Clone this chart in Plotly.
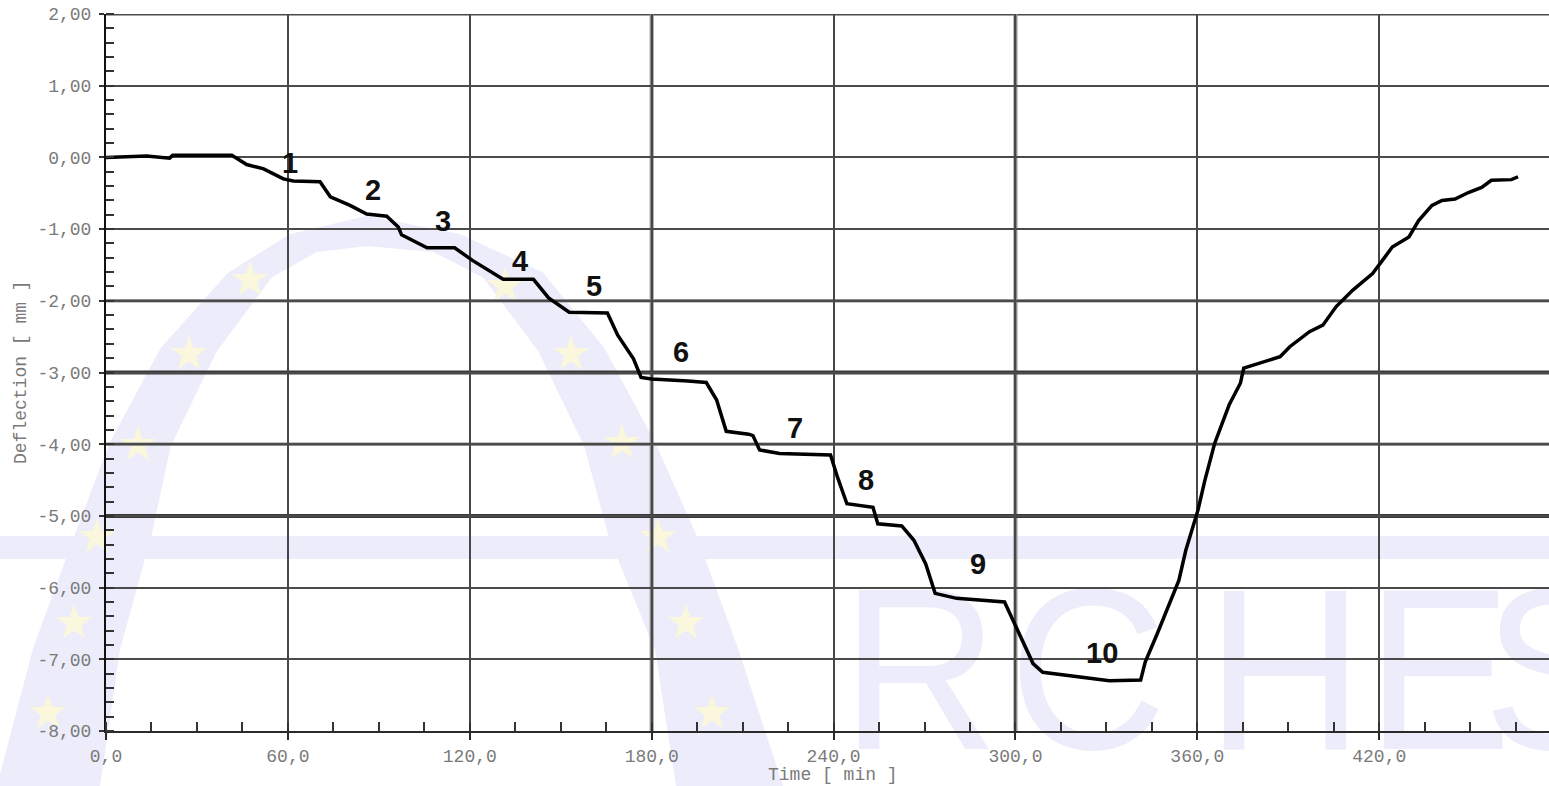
import base64
import math
import plotly.graph_objects as go

# ---------------- data ----------------
time_min = [0, 13.4, 21, 22, 41.5, 46.4, 52, 58.5, 61.8, 70.6, 74, 80.5, 86, 92.6, 96.4,
            97.5, 105.9, 115, 121, 131, 141, 146, 152.8, 165.4, 168.8, 171, 174, 176.5,
            180, 192, 198, 201.4, 204.6, 212, 213.4, 215.6, 222.2, 239, 241.3, 244.4,
            253, 254.6, 262.5, 266.5, 270.4, 273.5, 280.6, 296.4, 298.7, 301, 305.8,
            309, 323, 331, 341.3, 342.8, 346.8, 350, 353.9, 356.2, 360.2, 362.5, 365.7,
            370.5, 374.2, 375.3, 380.7, 387.3, 390.5, 397, 401.4, 405.8, 411.3, 417.8,
            421, 424.3, 429.8, 433, 437.4, 440.7, 445, 449.4, 453.8, 457, 463.6, 465.8]
deflection_mm = [0, 0.02, -0.01, 0.03, 0.03, -0.10, -0.16, -0.30, -0.33, -0.34, -0.55, -0.67,
                 -0.79, -0.82, -0.97, -1.08, -1.26, -1.26, -1.44, -1.70, -1.70, -1.96, -2.16,
                 -2.17, -2.48, -2.62, -2.81, -3.07, -3.09, -3.12, -3.14, -3.38, -3.82, -3.86,
                 -3.88, -4.08, -4.13, -4.15, -4.46, -4.83, -4.88, -5.11, -5.14, -5.34, -5.67,
                 -6.08, -6.15, -6.20, -6.41, -6.60, -7.06, -7.18, -7.25, -7.30, -7.29, -7.04,
                 -6.64, -6.32, -5.90, -5.48, -4.92, -4.50, -3.99, -3.45, -3.15, -2.94, -2.87,
                 -2.78, -2.64, -2.43, -2.34, -2.08, -1.85, -1.62, -1.44, -1.25, -1.11, -0.88,
                 -0.67, -0.60, -0.58, -0.49, -0.42, -0.32, -0.31, -0.27]

step_labels = ["1", "2", "3", "4", "5", "6", "7", "8", "9", "10"]
step_label_t = [60.7, 88.1, 111.2, 136.6, 161.0, 189.8, 227.4, 250.8, 287.6, 328.7]
step_label_y = [-0.08, -0.46, -0.89, -1.44, -1.79, -2.72, -3.78, -4.50, -5.67, -6.91]

x_tickvals = [0, 60, 120, 180, 240, 300, 360, 420]
x_ticktext = ["0,0", "60,0", "120,0", "180,0", "240,0", "300,0", "360,0", "420,0"]
y_tickvals = [2, 1, 0, -1, -2, -3, -4, -5, -6, -7, -8]
y_ticktext = ["2,00", "1,00", "0,00", "-1,00", "-2,00", "-3,00", "-4,00", "-5,00",
              "-6,00", "-7,00", "-8,00"]

x_title = "Time [ min ]"
y_title = "Deflection [ mm ]"

# ---------------- layout geometry ----------------
# The page body margin is removed (post_script), so the figure fills the window.
OFF = 0
SCREEN_W, SCREEN_H = 1549, 786
W, H = SCREEN_W - OFF, SCREEN_H - OFF
PLOT_L, PLOT_T, PLOT_R, PLOT_B = 106, 14, 1549, 731  # plot area in window pixels
ML, MT = PLOT_L - OFF, PLOT_T - OFF
MR, MB = W - (PLOT_R - OFF), H - (PLOT_B - OFF)
PW, PH = W - ML - MR, H - MT - MB


def paper_x(sx):
    return (sx - OFF - ML) / PW


def paper_y(sy):
    return (MT + PH - (sy - OFF)) / PH


# ---------------- watermark (background decoration) ----------------
WM = "#ececfa"
STAR = "#fbf7dc"
arch_outer_left = [(0, 786), (36, 649), (77, 537), (112, 445), (163, 350), (230, 275), (291, 237), (367, 219)]
arch_outer_right = [(459, 237), (541, 275), (602, 350), (653, 445), (694, 537), (735, 649), (780, 786)]
arch_inner_right = [(679, 786), (658, 649), (612, 537), (587, 445), (541, 350), (485, 275), (434, 249), (367, 243)]
arch_inner_left = [(316, 249), (270, 275), (214, 350), (168, 445), (148, 537), (117, 649), (97, 786)]
arch_pts = arch_outer_left + arch_outer_right + arch_inner_right + arch_inner_left
star_centers = [(250, 280), (189, 354), (138, 445), (97, 537), (74, 623), (48, 713),
                (505, 286), (571, 354), (622, 443), (658, 537), (686, 623), (712, 713)]
wm_letters = ["R", "C", "H", "E", "S"]
wm_letter_x = [841, 1009, 1206, 1366, 1483]


def star_points(cx, cy, r1=19, r2=7.6):
    pts = []
    for k in range(10):
        r = r1 if k % 2 == 0 else r2
        a = -math.pi / 2 + k * math.pi / 5
        pts.append(f"{cx + r * math.cos(a):.1f},{cy + r * math.sin(a):.1f}")
    return " ".join(pts)


svg = [f'<svg xmlns="http://www.w3.org/2000/svg" width="{W}" height="{H}" viewBox="0 0 {W} {H}">',
       f'<g transform="translate({-OFF},{-OFF})">']
svg.append(f'<polygon points="{" ".join(f"{x},{y}" for x, y in arch_pts)}" fill="{WM}" stroke="{WM}" stroke-width="6" stroke-linejoin="round"/>')
svg.append(f'<rect x="0" y="536" width="{SCREEN_W}" height="23" fill="{WM}"/>')
for cx, cy in star_centers:
    svg.append(f'<polygon points="{star_points(cx, cy)}" fill="{STAR}"/>')
for ch, lx in zip(wm_letters, wm_letter_x):
    svg.append(f'<text transform="translate({lx},749) scale(0.95,1)" font-family="Liberation Sans, Arial, sans-serif" '
               f'font-size="230" fill="{WM}">{ch}</text>')
svg.append('</g></svg>')
svg_uri = "data:image/svg+xml;base64," + base64.b64encode("".join(svg).encode()).decode()

# ---------------- figure ----------------
fig = go.Figure()
fig.add_trace(go.Scatter(x=time_min, y=deflection_mm, mode="lines",
                         line=dict(color="#000000", width=3.5), hoverinfo="skip", showlegend=False))

tick_font = dict(family="Liberation Mono, DejaVu Sans Mono, monospace", size=18, color="#7a7a7a")

fig.update_layout(
    width=W, height=H,
    margin=dict(l=ML, r=MR, t=MT, b=MB, pad=0, autoexpand=False),
    paper_bgcolor="white", plot_bgcolor="rgba(0,0,0,0)",
    showlegend=False,
    images=[dict(source=svg_uri, xref="paper", yref="paper",
                 x=-ML / PW, y=(PH + MT) / PH, sizex=W / PW, sizey=H / PH,
                 xanchor="left", yanchor="top", sizing="stretch", layer="below")],
    xaxis=dict(range=[0, 476], tickmode="array", tickvals=x_tickvals, ticktext=x_ticktext,
               automargin=False,
               showgrid=True, gridcolor="#474747", gridwidth=2, zeroline=False,
               showline=True, linecolor="#2a2a2a", linewidth=2,
               ticks="outside", ticklen=7, tickwidth=2, tickcolor="#2a2a2a",
               tickfont=tick_font, ticklabeloverflow="allow",
               minor=dict(tickmode="array", tickvals=list(range(0, 476, 15)),
                          ticks="inside", ticklen=9, tickwidth=2, tickcolor="#333333", showgrid=False)),
    yaxis=dict(range=[-8, 2], tickmode="array", tickvals=y_tickvals, ticktext=y_ticktext,
               automargin=False,
               showgrid=True, gridcolor="#4a4a4a", gridwidth=2, zeroline=False,
               showline=True, linecolor="#111111", linewidth=2,
               ticks="outside", ticklen=5, tickwidth=2, tickcolor="#333333",
               tickfont=tick_font, ticklabelstandoff=4, ticklabeloverflow="allow",
               minor=dict(tickmode="array", tickvals=[round(-8 + 0.2 * i, 1) for i in range(51)],
                          ticks="inside", ticklen=8, tickwidth=2, tickcolor="#333333", showgrid=False)),
)

# special grid-line emphasis seen in the reference (and the top grid line at the range edge)
shapes = [dict(type="line", xref="paper", yref="y", x0=0, x1=1, y0=2, y1=2,
               line=dict(color="#4a4a4a", width=3), layer="below")]
for xv in [180, 300]:
    shapes.append(dict(type="line", xref="x", yref="paper", x0=xv, x1=xv, y0=0, y1=1,
                       line=dict(color="#8c8c8c", width=4), layer="below"))
for yv in [-2, -4]:
    shapes.append(dict(type="line", xref="paper", yref="y", x0=0, x1=1, y0=yv, y1=yv,
                       line=dict(color="#8f8f8f", width=3.5), layer="below"))
for yv in [-3, -5]:
    shapes.append(dict(type="line", xref="paper", yref="y", x0=0, x1=1, y0=yv, y1=yv,
                       line=dict(color="#3a3a3a", width=4), layer="below"))
fig.update_layout(shapes=shapes)

annotations = []
for txt, tx, ty in zip(step_labels, step_label_t, step_label_y):
    annotations.append(dict(x=tx, y=ty, xref="x", yref="y", text=txt, showarrow=False,
                            font=dict(family="Liberation Sans, Arial, sans-serif", size=29,
                                      color="#111111", weight="bold"),
                            xanchor="center", yanchor="middle"))
annotations.append(dict(x=paper_x(833), y=paper_y(775), xref="paper", yref="paper",
                        text=x_title, showarrow=False, xanchor="center", yanchor="middle",
                        font=dict(family="Liberation Mono, DejaVu Sans Mono, monospace", size=18, color="#7a7a7a")))
annotations.append(dict(x=paper_x(21), y=paper_y(372), xref="paper", yref="paper",
                        text=y_title, showarrow=False, textangle=-90, xanchor="center", yanchor="middle",
                        font=dict(family="Liberation Mono, DejaVu Sans Mono, monospace", size=18, color="#7a7a7a")))
fig.update_layout(annotations=annotations)

fig.write_html("out.html", config={"displayModeBar": False, "staticPlot": True},
               post_script="document.body.style.margin='0px';document.body.style.overflow='hidden';")
